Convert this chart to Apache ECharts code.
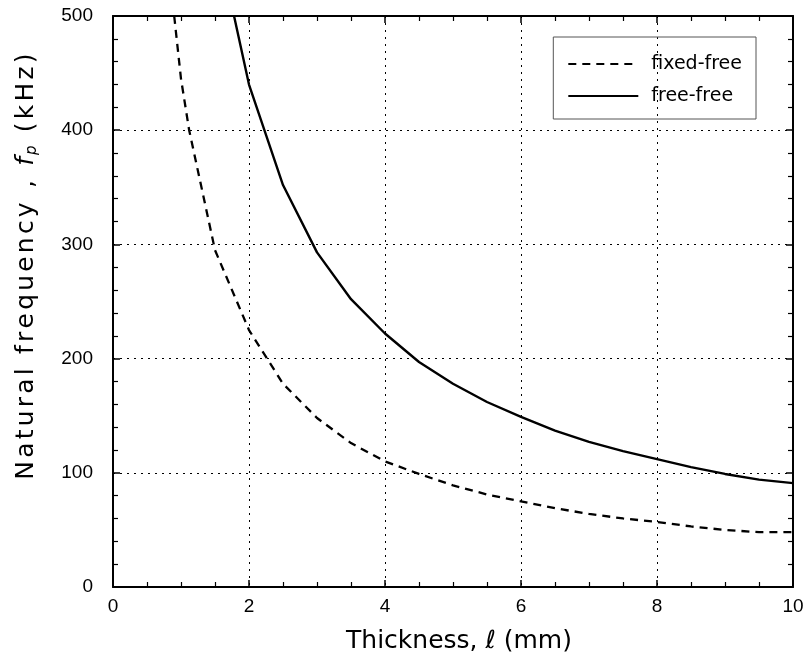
<!DOCTYPE html>
<html><head><meta charset="utf-8">
<script src="https://cdn.jsdelivr.net/npm/echarts@6/dist/echarts.min.js"></script>
<style>html,body{margin:0;padding:0;background:#fff}#c{width:807px;height:659px}</style>
</head><body><div id="c"></div>
<script>
const fixedFreeX = [0.9, 1.0, 1.12, 1.5, 2.0, 2.5, 3.0, 3.5, 4.0, 4.5, 5.0, 5.5, 6.0, 6.5, 7.0, 7.5, 8.0, 8.5, 9.0, 9.5, 10.0];
const fixedFreeY = [500, 445, 400, 295, 225, 178, 148, 126, 110, 99, 89, 81, 75, 69, 64, 60, 57, 53, 50, 48, 48];
const freeFreeX = [1.78, 2.0, 2.5, 3.0, 3.5, 4.0, 4.5, 5.0, 5.5, 6.0, 6.5, 7.0, 7.5, 8.0, 8.5, 9.0, 9.5, 10.0];
const freeFreeY = [500, 440, 352, 293, 252, 222, 197, 178, 162, 149, 137, 127, 119, 112, 105, 99, 94, 91];
const xTicks = [0, 2, 4, 6, 8, 10];
const yTicks = [0, 100, 200, 300, 400, 500];

const font = "'Liberation Sans', Arial, sans-serif";
const wide = "'DejaVu Sans', sans-serif";
const pair = (xs, ys) => xs.map((x, i) => [x, ys[i]]);
const spaced = (s, k) => s.split('').map(c => '{' + k + '|' + c + '}').join('');
const chart = echarts.init(document.getElementById('c'));
const baseAxis = {
  axisLine: {show: true, onZero: false, lineStyle: {color: '#000', width: 2}},
  axisTick: {show: true, inside: true, length: 7, lineStyle: {color: '#000', width: 1.5}},
};
chart.setOption({
  animation: false,
  backgroundColor: '#fff',
  grid: {left: 113, right: 14, top: 16, bottom: 67},
  legend: {
    orient: 'vertical', right: 51, top: 37, icon: 'inherit',
    borderColor: '#555', borderWidth: 1, padding: [17, 14, 13, 14],
    itemWidth: 70, itemHeight: 14, itemGap: 12,
    itemStyle: {opacity: 0},
    textStyle: {fontFamily: wide, fontSize: 19, color: '#000', lineHeight: 20, padding: [0, 0, 0, 8]},
    data: ['fixed-free', 'free-free']
  },
  graphic: [{
    type: 'text', x: 26, y: 265, rotation: Math.PI / 2,
    style: {
      text: spaced('Natural frequency , ', 'n') + '{i|f}{s|p}' + spaced(' (kHz)', 'n'),
      align: 'center', verticalAlign: 'middle',
      rich: {
        n: {fontFamily: wide, fontSize: 25, fill: '#000', padding: [0, 3.2, 0, 0]},
        i: {fontFamily: wide, fontSize: 25, fill: '#000', fontStyle: 'italic', padding: [0, 2, 0, 0]},
        s: {fontFamily: wide, fontSize: 15, fill: '#000', fontStyle: 'italic', padding: [12, 2, 0, 0]}
      }
    }
  }],
  xAxis: [
    Object.assign({}, baseAxis, {
      type: 'value', min: 0, max: 10, interval: 2, position: 'bottom',
      axisLabel: {fontFamily: font, fontSize: 19, color: '#000', margin: 10, formatter: v => xTicks.includes(v) ? String(v) : ''},
      splitLine: {show: true, lineStyle: {color: '#000', type: [2, 5], width: 1}},
      minorTick: {show: true, splitNumber: 4, length: 5, lineStyle: {color: '#000', width: 1.2}},
      name: 'Thickness, ℓ (mm)', nameLocation: 'middle', nameGap: 42,
      nameTextStyle: {fontFamily: wide, fontSize: 25, color: '#000', padding: [0, 0, 0, 12]}
    }),
    Object.assign({}, baseAxis, {
      type: 'value', min: 0, max: 10, interval: 2, position: 'top',
      axisLabel: {show: false}, splitLine: {show: false},
      minorTick: {show: true, splitNumber: 4, length: 5, lineStyle: {color: '#000', width: 1.2}}
    })
  ],
  yAxis: [
    Object.assign({}, baseAxis, {
      type: 'value', min: 0, max: 500, interval: 100, position: 'left',
      axisLabel: {fontFamily: font, fontSize: 19, color: '#000', margin: 20, formatter: v => yTicks.includes(v) ? String(v) : ''},
      splitLine: {show: true, lineStyle: {color: '#000', type: [2, 5], width: 1}},
      minorTick: {show: true, splitNumber: 5, length: 5, lineStyle: {color: '#000', width: 1.2}}
    }),
    Object.assign({}, baseAxis, {
      type: 'value', min: 0, max: 500, interval: 100, position: 'right',
      axisLabel: {show: false}, splitLine: {show: false},
      minorTick: {show: true, splitNumber: 5, length: 5, lineStyle: {color: '#000', width: 1.2}}
    })
  ],
  series: [
    {name: 'fixed-free', type: 'line', data: pair(fixedFreeX, fixedFreeY), showSymbol: false, symbol: 'none',
     lineStyle: {color: '#000', width: 2.3, type: [8, 6]}, itemStyle: {color: '#000'}, clip: true},
    {name: 'free-free', type: 'line', data: pair(freeFreeX, freeFreeY), showSymbol: false, symbol: 'none',
     lineStyle: {color: '#000', width: 2.4}, itemStyle: {color: '#000'}, clip: true}
  ]
});
</script></body></html>
